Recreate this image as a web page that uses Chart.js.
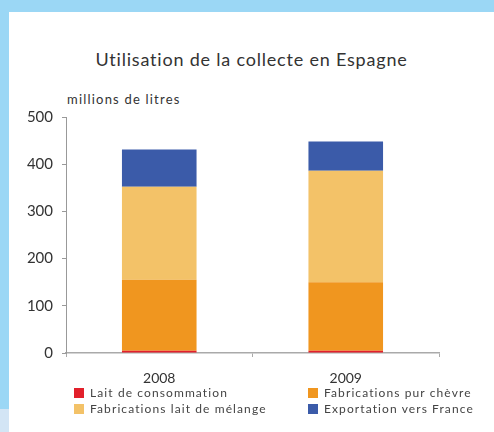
<!DOCTYPE html>
<html>
<head>
<meta charset="utf-8">
<script src="https://cdn.jsdelivr.net/npm/chart.js@4"></script>
<style>
  body { margin: 0; width: 494px; height: 432px; background: #9bd7f5; position: relative; overflow: hidden; font-family: Lato, sans-serif; }
  #panel { position: absolute; left: 9px; top: 12px; width: 485px; height: 420px; background: #fff; }
  #corner { position: absolute; left: 0; top: 409px; width: 9px; height: 23px; background: #d3e5f5; }
  #title { position: absolute; left: 9px; width: 485px; top: 48px; text-align: center; font-size: 18px; letter-spacing: 0.8px; color: #333; }
  #unit { position: absolute; left: 67px; top: 91px; font-size: 13px; letter-spacing: 1.2px; color: #333; }
  #chart { position: absolute; left: 0; top: 0; }
  #legend { position: absolute; left: 74px; top: 385px; width: 420px; font-size: 12px; letter-spacing: 1.1px; color: #444; }
  .item { position: absolute; white-space: nowrap; }
  .item span { display: inline-block; width: 10px; height: 10px; margin-right: 6px; vertical-align: -1px; }
</style>
</head>
<body>
<div id="panel"></div>
<div id="corner"></div>
<div id="title">Utilisation de la collecte en Espagne</div>
<div id="unit">millions de litres</div>
<canvas id="chart" width="494" height="432"></canvas>
<div id="legend"></div>
<script>
// data
const years = ['2008', '2009'];
const laitConso = [5, 5];
const purChevre = [150, 145];
const laitMelange = [197, 236];
const exportFrance = [79, 62];

const seriesNames = ['Lait de consommation', 'Fabrications pur chèvre', 'Fabrications lait de mélange', 'Exportation vers France'];
const seriesColors = ['#e2202b', '#f0961f', '#f3c268', '#3b5ba9'];
const seriesData = [laitConso, purChevre, laitMelange, exportFrance];

const ctx = document.querySelector('#chart').getContext('2d');

new Chart(ctx, {
    type: 'bar',
    data: {
        labels: years,
        datasets: seriesData.map((d, i) => ({
            label: seriesNames[i],
            data: d,
            backgroundColor: seriesColors[i],
            borderWidth: 0,
            barPercentage: 0.4,
            categoryPercentage: 1
        }))
    },
    options: {
        responsive: false,
        animation: false,
        layout: { padding: { left: 0, top: 117, right: 55, bottom: 0 } },
        plugins: { legend: { display: false }, title: { display: false }, tooltip: { enabled: false } },
        scales: {
            x: {
                stacked: true,
                afterFit: (s) => { s.height = 79; },
                border: { color: '#aaa', width: 1.5 },
                grid: { drawOnChartArea: false, tickLength: 4, color: '#aaa' },
                ticks: { padding: 13, color: '#333', font: { family: 'Lato', size: 14 } }
            },
            y: {
                stacked: true,
                min: 0,
                max: 500,
                afterFit: (s) => { s.width = 66; },
                border: { color: '#999', width: 1 },
                grid: { drawOnChartArea: false, tickLength: 4, color: '#999' },
                ticks: { stepSize: 100, padding: 9, color: '#333', font: { family: 'Lato', size: 15 } }
            }
        }
    }
});

// legend, two columns
const legend = document.querySelector('#legend');
seriesNames.forEach((name, i) => {
    const div = document.createElement('div');
    div.className = 'item';
    div.style.left = (i % 2 ? 234 : 0) + 'px';
    div.style.top = (i < 2 ? 0 : 16) + 'px';
    div.innerHTML = '<span style="background:' + seriesColors[i] + '"></span>' + name;
    legend.appendChild(div);
});
</script>
</body>
</html>
